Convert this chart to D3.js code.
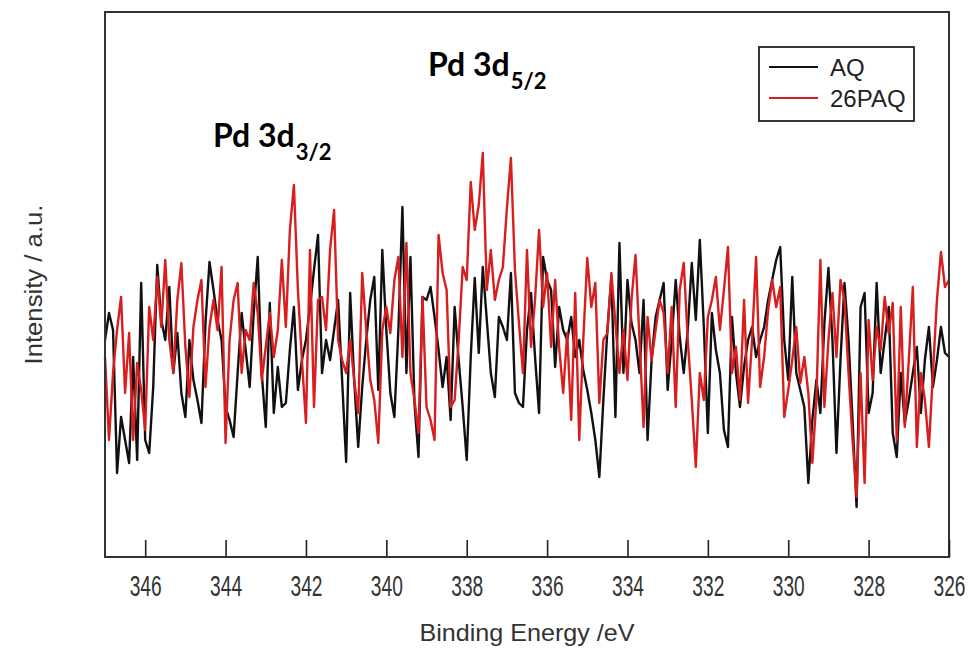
<!DOCTYPE html>
<html>
<head>
<meta charset="utf-8">
<script src="https://cdn.jsdelivr.net/npm/d3@7"></script>
<style>
  body { margin: 0; background: #fff; }
</style>
</head>
<body>
<div id="svgDiv"></div>
<script>
// binding energy grid (eV), 0.1 eV step, high -> low
var energyStart = 347.0,
    energyEnd = 326.0,
    energyStep = 0.1;

var tickValues = [346, 344, 342, 340, 338, 336, 334, 332, 330, 328, 326];

// intensity (a.u.), one value per 0.1 eV from 347.0 down to 326.0
var aqValues = [
  260, 287, 270, 127, 183, 160, 137, 243, 140, 317,
  160, 147, 213, 335, 280, 260, 313, 227, 267, 207,
  183, 260, 220, 200, 177, 277, 338, 310, 280, 260,
  193, 180, 163, 227, 287, 250, 213, 287, 343, 227,
  173, 297, 187, 233, 193, 197, 250, 293, 210, 240,
  260, 293, 330, 365, 227, 260, 240, 270, 300, 220,
  138, 307, 220, 153, 213, 260, 300, 323, 210, 350,
  270, 207, 183, 270, 393, 227, 343, 197, 143, 303,
  300, 313, 283, 250, 213, 243, 180, 293, 240, 193,
  140, 243, 322, 247, 333, 280, 227, 203, 283, 273,
  260, 327, 207, 197, 193, 270, 307, 243, 187, 343,
  320, 310, 233, 293, 270, 260, 283, 243, 260, 230,
  210, 187, 160, 123, 200, 270, 323, 183, 357, 227,
  320, 277, 260, 227, 300, 160, 240, 283, 300, 317,
  210, 260, 320, 263, 227, 270, 337, 280, 360, 273,
  167, 287, 250, 227, 170, 153, 283, 227, 193, 233,
  260, 273, 243, 260, 273, 300, 320, 340, 353, 260,
  220, 323, 227, 210, 193, 117, 180, 220, 187, 277,
  332, 260, 147, 240, 317, 260, 180,  93, 293, 307,
  187, 207, 317, 227, 260, 293, 167, 143, 227, 177,
  200, 227, 253, 187, 240, 273, 213, 240, 273, 247,
  243
];

var paqValues = [
  243, 160, 227, 270, 303, 207, 267, 160, 237, 210,
  170, 293, 260, 323, 273, 340, 260, 227, 300, 337,
  253, 203, 273, 300, 320, 213, 273, 300, 270, 333,
  157, 260, 300, 317, 227, 270, 260, 317, 287, 220,
  253, 287, 243, 270, 340, 273, 370, 415, 310, 240,
  177, 350, 193, 300, 303, 270, 350, 390, 260, 240,
  227, 260, 220, 187, 327, 270, 220, 200, 157, 270,
  293, 267, 320, 343, 243, 357, 227, 200, 167, 303,
  193, 180, 160, 365, 327, 310, 193, 200, 260, 333,
  320, 418, 370, 395, 447, 310, 350, 300, 320, 333,
  392, 442, 330, 277, 227, 350, 253, 300, 370, 293,
  327, 253, 320, 253, 207, 267, 180, 307, 160, 260,
  342, 293, 317, 197, 260, 267, 327, 277, 227, 270,
  220, 300, 345, 260, 173, 283, 240, 270, 300, 287,
  227, 293, 193, 310, 337, 260, 200, 133, 227, 200,
  283, 300, 323, 270, 310, 353, 227, 253, 200, 300,
  197, 260, 343, 213, 243, 290, 320, 293, 313, 183,
  210, 240, 273, 217, 243, 207, 137, 200, 340, 193,
  260, 307, 243, 320, 300, 227, 160, 103, 227, 117,
  280, 220, 273, 250, 303, 267, 297, 160, 293, 173,
  240, 313, 153, 227, 200, 153, 227, 300, 348, 313,
  320
];

var seriesNames = ["AQ", "26PAQ"],
    seriesColors = ["#111111", "#d81e1e"];

var svgWidth = 974,
    svgHeight = 648,
    plotLeft = 105,
    plotRight = 949,
    plotTop = 12,
    plotBottom = 557;

var svg = d3.select("#svgDiv").append("svg")
    .attr("width", svgWidth)
    .attr("height", svgHeight)
    .style("display", "block");

var energies = aqValues.map(function(d, i){ return +(energyStart - i*energyStep).toFixed(1); });

var x = d3.scaleLinear().domain([energyStart, energyEnd]).range([plotLeft, plotRight]),
    y = d3.scaleLinear().domain([43, 588]).range([plotBottom, plotTop]);

var line = d3.line()
    .x(function(d){ return x(d[0]); })
    .y(function(d){ return y(d[1]); });

// spectra: AQ first, 26PAQ drawn over it
[aqValues, paqValues].forEach(function(vals, k){
  svg.append("path")
     .datum(vals.map(function(v, i){ return [energies[i], v]; }))
     .attr("fill", "none")
     .attr("stroke", seriesColors[k])
     .attr("stroke-width", 2.4)
     .attr("stroke-linejoin", "round")
     .attr("d", line);
});

// frame
svg.append("rect")
   .attr("x", plotLeft)
   .attr("y", plotTop)
   .attr("width", plotRight - plotLeft)
   .attr("height", plotBottom - plotTop)
   .attr("fill", "none")
   .attr("stroke", "#333")
   .attr("stroke-width", 2);

// bottom axis, ticks pointing in
var xAxis = svg.append("g")
   .attr("transform", "translate(0," + plotBottom + ")")
   .call(d3.axisBottom(x).tickValues(tickValues).tickSize(-17).tickFormat(d3.format("d")));
xAxis.select(".domain").remove();
xAxis.selectAll(".tick line").attr("stroke", "#222").attr("stroke-width", 1.6);
// narrow, tall digits like the original
xAxis.selectAll(".tick text")
     .attr("y", 0)
     .attr("dy", null)
     .attr("transform", "translate(0,39) scale(1,1.3)")
     .attr("fill", "#333")
     .attr("font-family", "Liberation Sans, Arial, sans-serif")
     .attr("font-size", 22)
     .attr("textLength", 32)
     .attr("lengthAdjust", "spacingAndGlyphs");

// axis titles
svg.append("text")
   .attr("x", (plotLeft + plotRight)/2)
   .attr("y", 641)
   .attr("text-anchor", "middle")
   .attr("font-family", "Liberation Sans, Arial, sans-serif")
   .attr("font-size", 24)
   .attr("fill", "#333")
   .attr("textLength", 215)
   .attr("lengthAdjust", "spacingAndGlyphs")
   .text("Binding Energy /eV");

svg.append("text")
   .attr("transform", "translate(42," + (plotTop + plotBottom)/2 + ") rotate(-90)")
   .attr("text-anchor", "middle")
   .attr("font-family", "Liberation Sans, Arial, sans-serif")
   .attr("font-size", 23)
   .attr("fill", "#333")
   .attr("textLength", 160)
   .attr("lengthAdjust", "spacingAndGlyphs")
   .text("Intensity / a.u.");

// peak labels
addPeakLabel("Pd 3d", "5/2", 428, 76);
addPeakLabel("Pd 3d", "3/2", 213, 147);

function addPeakLabel(main, sub, px, py){
  var g = svg.append("g");
  var t = g.append("text")
     .attr("x", px)
     .attr("y", py)
     .attr("font-family", "Lato, Open Sans, sans-serif")
     .attr("font-weight", "bold")
     .attr("font-size", 32)
     .attr("fill", "#000")
     .text(main);
  var w = t.node().getBBox().width;
  g.append("text")
     .attr("x", px + w + 1)
     .attr("y", py + 13)
     .attr("font-family", "Lato, Open Sans, sans-serif")
     .attr("font-weight", "bold")
     .attr("font-size", 22)
     .attr("fill", "#000")
     .text(sub);
}

// legend
var legend = svg.append("g");
legend.append("rect")
   .attr("x", 759)
   .attr("y", 47)
   .attr("width", 155)
   .attr("height", 74)
   .attr("fill", "#fff")
   .attr("stroke", "#222")
   .attr("stroke-width", 1.8);

seriesNames.forEach(function(name, i){
  var ly = 67 + i*31;
  legend.append("line")
     .attr("x1", 769).attr("x2", 818)
     .attr("y1", ly).attr("y2", ly)
     .attr("stroke", seriesColors[i])
     .attr("stroke-width", 2);
  legend.append("text")
     .attr("x", 830)
     .attr("y", ly + 9)
     .attr("font-family", "Liberation Sans, Arial, sans-serif")
     .attr("font-size", 24)
     .attr("fill", "#222")
     .text(name);
});
</script>
</body>
</html>
